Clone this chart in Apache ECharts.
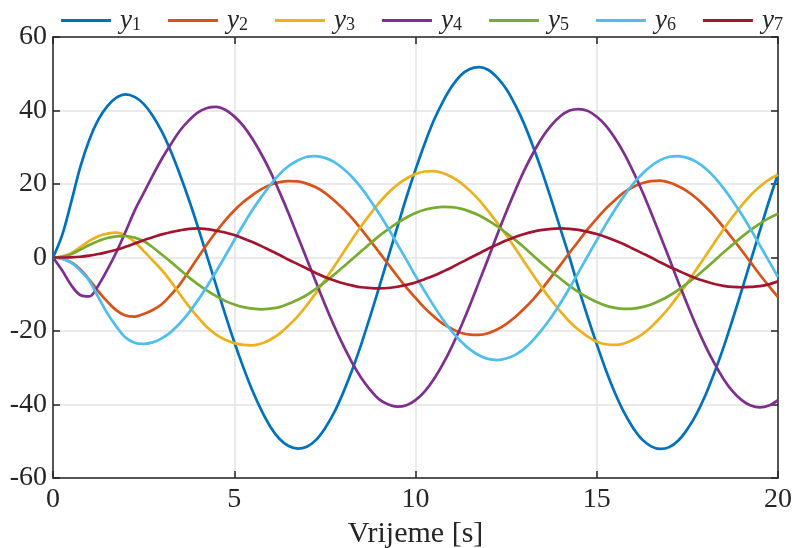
<!DOCTYPE html>
<html>
<head>
<meta charset="utf-8">
<script src="https://cdn.jsdelivr.net/npm/echarts@6/dist/echarts.min.js"></script>
<style>html,body{margin:0;padding:0;background:#fff}#c{width:792px;height:548px}</style>
</head>
<body>
<div id="c"></div>
<script>
const time = [0,0.25,0.5,0.75,1,1.25,1.5,1.75,2,2.25,2.5,2.75,3,3.25,3.5,3.75,4,4.25,4.5,4.75,5,5.25,5.5,5.75,6,6.25,6.5,6.75,7,7.25,7.5,7.75,8,8.25,8.5,8.75,9,9.25,9.5,9.75,10,10.25,10.5,10.75,11,11.25,11.5,11.75,12,12.25,12.5,12.75,13,13.25,13.5,13.75,14,14.25,14.5,14.75,15,15.25,15.5,15.75,16,16.25,16.5,16.75,17,17.25,17.5,17.75,18,18.25,18.5,18.75,19,19.25,19.5,19.75,20];
const y1 = [0,6,15,24.5,32,37.5,41.2,43.5,44.4,43.7,41.8,38.6,34.3,28.9,22.6,15.7,8.2,0.3,-7.6,-15.5,-23,-29.9,-36.2,-41.6,-46.1,-49.4,-51.3,-52,-51.5,-49.7,-46.5,-42.3,-36.9,-30.7,-23.7,-16,-8,0.2,8.3,16.4,23.9,30.9,37.2,42.3,46.5,49.6,51.3,51.8,51.1,49,45.9,41.5,36.3,30,23.1,15.6,7.7,0,-8.4,-16.2,-23.6,-30.6,-36.8,-42.1,-46.3,-49.5,-51.4,-52.1,-51.6,-49.8,-46.7,-42.6,-37.4,-31.2,-24.4,-16.8,-8.9,-0.8,7.3,15.3,22.8];
const y2 = [0,-0.3,-1.3,-3.2,-6,-9.2,-12,-14.4,-15.8,-16.1,-15.4,-14.3,-12.7,-10.2,-7.3,-3.7,0,3.6,7,10.1,12.8,15.1,17,18.6,19.8,20.5,20.8,20.7,20.1,19.1,17.6,15.6,13.3,10.7,7.7,4.6,1.4,-1.85,-5.1,-8.2,-11,-13.7,-16,-18,-19.4,-20.5,-21,-21.05,-20.6,-19.6,-18.1,-16.2,-13.9,-11.3,-8.4,-5.2,-2,1.3,4.5,7.7,10.6,13.3,15.6,17.7,19.2,20.2,20.8,20.9,20.4,19.4,18,16.1,13.8,11.2,8.2,5.1,1.9,-1.4,-4.7,-7.8,-10.8];
const y3 = [0,0.3,1.2,2.8,4.5,5.8,6.5,6.75,6,4.3,1.8,-0.8,-3.4,-6.5,-10,-13.3,-16.3,-19,-21,-22.4,-23.3,-23.8,-23.9,-23.4,-22.3,-20.7,-18.5,-16,-13,-9.7,-6.2,-2.5,1.2,4.9,8.5,11.8,14.9,17.6,19.8,21.5,22.7,23.4,23.5,23,21.9,20.3,18.2,15.7,12.7,9.5,6.1,2.5,-1.2,-4.8,-8.4,-11.7,-14.7,-17.5,-19.7,-21.5,-22.9,-23.6,-23.8,-23.4,-22.4,-20.9,-18.9,-16.4,-13.6,-10.3,-6.9,-3.2,0.4,4.1,7.7,11.1,14.2,17,19.3,21.2,22.5];
const y4 = [0,-3.5,-7.5,-10.2,-10.6,-7.6,-3.3,1.5,7,12.7,17.5,22.3,26.8,30.8,34.5,37.3,39.5,40.7,41,40.2,38.4,35.8,32.3,28.1,23.3,17.8,12,5.8,-0.4,-6.6,-12.7,-18.5,-23.8,-28.6,-32.7,-36,-38.6,-40,-40.6,-40.2,-38.8,-36.5,-33.2,-29.1,-24.3,-18.9,-13,-6.7,-0.4,6.1,12.3,18.2,23.7,28.5,32.7,36,38.5,40,40.4,39.9,38.3,35.9,32.5,28.4,23.5,18.1,12.2,6,-0.3,-6.7,-12.8,-18.7,-24.1,-28.9,-33.1,-36.4,-38.8,-40.3,-40.8,-40.3,-38.8];
const y5 = [0,0.2,0.9,2.1,3.4,4.5,5.3,5.75,5.85,5.4,4.5,2.8,0.8,-1.2,-3.3,-5.4,-7.3,-9,-10.5,-11.8,-12.8,-13.5,-13.9,-14.1,-13.9,-13.5,-12.6,-11.5,-10.2,-8.5,-6.7,-4.7,-2.6,-0.5,1.7,3.8,5.9,7.7,9.4,10.9,12.1,13,13.5,13.8,13.7,13.3,12.5,11.5,10.1,8.5,6.7,4.8,2.7,0.5,-1.7,-3.8,-5.8,-7.7,-9.4,-10.9,-12.1,-13.1,-13.7,-14,-13.9,-13.5,-12.8,-11.7,-10.4,-8.8,-7,-5.1,-3,-0.8,1.4,3.5,5.6,7.5,9.2,10.7,11.9];
const y6 = [0,-0.3,-1.4,-3.5,-6.3,-10.8,-15.2,-18.8,-21.8,-23.2,-23.5,-23.1,-22,-20.3,-17.9,-15,-11.6,-7.8,-3.8,0.4,4.7,8.9,12.9,16.5,19.8,22.7,24.9,26.4,27.4,27.6,27.1,26,24.2,21.9,19,15.6,11.9,7.9,3.6,-0.65,-5,-9.1,-13.1,-16.8,-20.1,-22.8,-25,-26.6,-27.6,-27.9,-27.5,-26.5,-24.8,-22.4,-19.5,-16.2,-12.4,-8.3,-4,0.4,4.7,9,13,16.7,20,22.7,24.9,26.5,27.4,27.6,27.1,26,24.2,21.8,18.8,15.4,11.7,7.6,3.3,-1,-5.3];
const y7 = [0,0,0.05,0.2,0.5,0.95,1.5,2.1,2.9,3.8,4.7,5.5,6.3,6.9,7.4,7.8,7.9,7.7,7.3,6.8,6.1,5.2,4.2,3.1,1.9,0.7,-0.6,-1.8,-3,-4.2,-5.3,-6.2,-7,-7.6,-8.1,-8.3,-8.4,-8.3,-7.95,-7.45,-6.8,-5.9,-4.95,-3.85,-2.7,-1.4,-0.15,1.1,2.4,3.5,4.6,5.6,6.4,7.05,7.5,7.8,7.9,7.8,7.5,7,6.4,5.6,4.6,3.6,2.4,1.2,0,-1.3,-2.5,-3.6,-4.7,-5.7,-6.5,-7.2,-7.7,-8,-8.1,-8,-7.8,-7.3,-6.5];
const names = ['y1','y2','y3','y4','y5','y6','y7'];
const colors = ['#0072BD','#D95319','#EDB120','#7E2F8E','#77AC30','#4DBEEE','#A2142F'];
const xTicks = [0,5,10,15,20];
const yTicks = [-60,-40,-20,0,20,40,60];

const allY = [y1,y2,y3,y4,y5,y6,y7];
const FONT = 'Liberation Serif';
const AX = '#262626';

const chart = echarts.init(document.getElementById('c'), null, {renderer:'canvas'});
const series = allY.map((arr, k) => ({
  name: names[k],
  type: 'line',
  data: time.map((t, i) => [t, arr[i]]),
  smooth: 0.35,
  showSymbol: false,
  symbol: 'none',
  lineStyle: {color: colors[k], width: 2.7, join: 'round'},
  itemStyle: {color: colors[k]},
  animation: false
}));

const axisBase = {
  axisLine: {show: true, onZero: false, lineStyle: {color: AX, width: 1.5}},
  axisTick: {show: true, inside: true, length: 7, lineStyle: {color: AX, width: 1.5}}
};

chart.setOption({
  animation: false,
  backgroundColor: '#fff',
  legend: {
    top: 2,
    left: 56,
    icon: 'rect',
    itemWidth: 50,
    itemHeight: 3,
    itemGap: 27,
    data: names.map((n, k) => ({name: n, itemStyle: {color: colors[k]}})),
    formatter: n => '{i|y}{s|' + n.slice(1) + '}',
    textStyle: {
      rich: {
        i: {fontFamily: FONT, fontStyle: 'italic', fontSize: 27, color: AX, padding: [0,0,0,4]},
        s: {fontFamily: FONT, fontSize: 18, color: AX, padding: [10,0,0,0]}
      }
    }
  },
  grid: {left: 53, right: 14, top: 37, bottom: 70, show: false, containLabel: false, outerBoundsMode: 'none'},
  xAxis: [Object.assign({
    type: 'value', min: 0, max: 20, interval: 5,
    name: 'Vrijeme [s]', nameLocation: 'middle', nameGap: 37,
    nameTextStyle: {fontFamily: FONT, fontSize: 30, color: AX},
    axisLabel: {fontFamily: FONT, fontSize: 28, color: AX, margin: 8, formatter: v => xTicks.includes(v) ? String(v) : ''},
    splitLine: {show: true, lineStyle: {color: '#e3e3e3', width: 1.5}}
  }, axisBase), Object.assign({
    type: 'value', min: 0, max: 20, interval: 5, position: 'top',
    axisLabel: {show: false}, splitLine: {show: false}
  }, axisBase)],
  yAxis: [Object.assign({
    type: 'value', min: -60, max: 60, interval: 20,
    axisLabel: {fontFamily: FONT, fontSize: 28, color: AX, margin: 6, formatter: v => yTicks.includes(v) ? String(v) : ''},
    splitLine: {show: true, lineStyle: {color: '#e3e3e3', width: 1.5}}
  }, axisBase), Object.assign({
    type: 'value', min: -60, max: 60, interval: 20, position: 'right',
    axisLabel: {show: false}, splitLine: {show: false}
  }, axisBase)],
  series: series
});
</script>
</body>
</html>
